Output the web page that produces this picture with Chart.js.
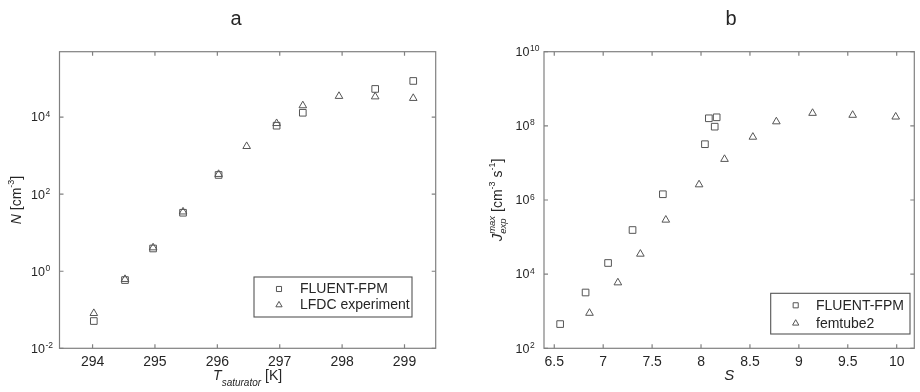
<!DOCTYPE html>
<html>
<head>
<meta charset="utf-8">
<script src="https://cdn.jsdelivr.net/npm/chart.js@4/dist/chart.umd.min.js"></script>
<style>
  html, body { margin: 0; padding: 0; background: #fff; }
  #wrap { position: relative; width: 920px; height: 392px; overflow: hidden; }
  canvas { position: absolute; top: 0; }
  #ca { left: 0; }
  #cb { left: 460px; }
</style>
</head>
<body>
<div id="wrap">
  <canvas id="ca" width="460" height="392"></canvas>
  <canvas id="cb" width="460" height="392"></canvas>
</div>
<script>
// ---------- Panel a data ----------
const aFluentT = [294.02, 294.52, 294.97, 295.45, 296.02, 296.95, 297.37, 298.53, 299.14];
const aFluentN = [0.051, 0.59, 3.9, 33, 316, 6000, 13000, 54000, 87000];
const aLfdcT   = [294.02, 294.52, 294.97, 295.45, 296.02, 296.47, 296.95, 297.37, 297.95, 298.53, 299.14];
const aLfdcN   = [0.081, 0.62, 4.1, 35, 330, 1750, 6900, 20000, 35000, 34000, 31000];
const aXTicks  = [294, 295, 296, 297, 298, 299];
const aYTickExps = [-2, 0, 2, 4];
const aSeriesNames = ['FLUENT-FPM', 'LFDC experiment'];

// ---------- Panel b data ----------
const bFluentS = [6.56, 6.82, 7.05, 7.30, 7.61, 8.04, 8.14, 8.08, 8.16];
const bFluentJ = [450, 3200, 20000, 155000, 1.43e6, 3.2e7, 9.5e7, 1.6e8, 1.7e8];
const bFemS    = [6.86, 7.15, 7.38, 7.64, 7.98, 8.24, 8.53, 8.77, 9.14, 9.55, 9.99];
const bFemJ    = [890, 5900, 35000, 290000, 2.6e6, 1.26e7, 5e7, 1.3e8, 2.2e8, 1.95e8, 1.75e8];
const bXTicks  = [6.5, 7, 7.5, 8, 8.5, 9, 9.5, 10];
const bYTickExps = [2, 4, 6, 8, 10];
const bSeriesNames = ['FLUENT-FPM', 'femtube2'];

const FONT = '"Liberation Sans", Arial, Helvetica, sans-serif';
const TXT = '#262626';
const FRAME = '#808080';
const MARK = '#555555';

function zip(xs, ys) { return xs.map((x, i) => ({ x: x, y: ys[i] })); }

function fontOf(p) { return (p.it ? 'italic ' : '') + p.size + 'px ' + FONT; }

function partWidth(ctx, p) {
  if (p.stack) {
    ctx.font = fontOf({ size: p.size, it: p.it });
    return Math.max(ctx.measureText(p.sup).width, ctx.measureText(p.sub).width);
  }
  ctx.font = fontOf(p);
  return ctx.measureText(p.t).width;
}

function drawRich(ctx, parts, x, y, align) {
  let total = 0;
  parts.forEach(p => total += partWidth(ctx, p));
  let cx = align === 'center' ? x - total / 2 : (align === 'right' ? x - total : x);
  ctx.textAlign = 'left';
  ctx.textBaseline = 'alphabetic';
  ctx.fillStyle = TXT;
  parts.forEach(p => {
    const w = partWidth(ctx, p);
    ctx.font = fontOf(p.stack ? { size: p.size, it: p.it } : p);
    if (p.stack) {
      ctx.fillText(p.sup, cx, y + p.supDy);
      ctx.fillText(p.sub, cx, y + p.subDy);
    } else {
      ctx.fillText(p.t, cx, y + (p.dy || 0));
    }
    cx += w;
  });
}

const decorPlugin = {
  id: 'decor',
  afterDatasetsDraw(chart, args, o) {
    const ctx = chart.ctx;
    const area = chart.chartArea;
    const xs = chart.scales.x, ys = chart.scales.y;
    ctx.save();
    // frame
    ctx.strokeStyle = FRAME;
    ctx.lineWidth = 1.2;
    ctx.strokeRect(area.left, area.top, area.right - area.left, area.bottom - area.top);
    // ticks
    const tl = 4;
    ctx.beginPath();
    o.xTicks.forEach(v => {
      const px = xs.getPixelForValue(v);
      ctx.moveTo(px, area.bottom); ctx.lineTo(px, area.bottom - tl);
      ctx.moveTo(px, area.top); ctx.lineTo(px, area.top + tl);
    });
    o.yExps.forEach(e => {
      const py = ys.getPixelForValue(Math.pow(10, e));
      ctx.moveTo(area.left, py); ctx.lineTo(area.left + tl, py);
      ctx.moveTo(area.right, py); ctx.lineTo(area.right - tl, py);
    });
    ctx.stroke();
    // x tick labels
    ctx.fillStyle = TXT;
    ctx.font = '14px ' + FONT;
    ctx.textAlign = 'center';
    ctx.textBaseline = 'alphabetic';
    o.xTicks.forEach(v => {
      ctx.fillText(String(v), xs.getPixelForValue(v), area.bottom + 17.7);
    });
    // y tick labels (10 with superscript exponent)
    o.yExps.forEach(e => {
      const py = ys.getPixelForValue(Math.pow(10, e));
      ctx.font = '12.5px ' + FONT;
      ctx.textAlign = 'right';
      ctx.fillText('10', area.left - 14.5, py + 4.3);
      ctx.font = '8.5px ' + FONT;
      ctx.textAlign = 'left';
      ctx.fillText(String(e), area.left - 14, py - 0.5);
    });
    // x title
    drawRich(ctx, o.xTitle, (area.left + area.right) / 2 + (o.xTitleShift || 0), 380, 'center');
    // y title (rotated)
    ctx.save();
    ctx.translate(o.yTitleX, (area.top + area.bottom) / 2);
    ctx.rotate(-Math.PI / 2);
    drawRich(ctx, o.yTitle, 0, 0, 'center');
    ctx.restore();
    // panel title
    ctx.fillStyle = TXT;
    ctx.font = '20px ' + FONT;
    ctx.textAlign = 'center';
    ctx.fillText(o.title, o.titleX, 25);
    // legend
    const L = o.legend;
    ctx.fillStyle = '#fff';
    ctx.fillRect(L.x, L.y, L.w, L.h);
    ctx.strokeStyle = '#555';
    ctx.lineWidth = 1.1;
    ctx.strokeRect(L.x, L.y, L.w, L.h);
    chart.data.datasets.forEach((ds, i) => {
      const ry = L.y + L.row0 + i * L.rowH;
      ctx.strokeStyle = MARK;
      ctx.fillStyle = 'rgba(0,0,0,0)';
      ctx.lineWidth = 1;
      Chart.helpers.drawPoint(ctx, { pointStyle: ds.pointStyle, radius: ds.pointStyle === 'rect' ? 3.6 : 3.6, rotation: 0, borderWidth: 1 }, L.x + L.markX, ry);
      ctx.fillStyle = TXT;
      ctx.font = '14px ' + FONT;
      ctx.textAlign = 'left';
      ctx.textBaseline = 'middle';
      ctx.fillText(ds.label, L.x + L.textX, ry + 0.5);
      ctx.textBaseline = 'alphabetic';
    });
    ctx.restore();
  }
};

function makeChart(id, datasets, xr, yr, pad, decor) {
  return new Chart(document.getElementById(id), {
    type: 'scatter',
    data: { datasets: datasets },
    options: {
      responsive: false,
      animation: false,
      events: [],
      layout: { padding: pad },
      plugins: { legend: { display: false }, tooltip: { enabled: false }, decor: decor },
      scales: {
        x: { type: 'linear', display: false, min: xr[0], max: xr[1] },
        y: { type: 'logarithmic', display: false, min: yr[0], max: yr[1] }
      }
    },
    plugins: [decorPlugin]
  });
}

function ds(label, xs, ys, style) {
  return {
    label: label,
    data: zip(xs, ys),
    pointStyle: style,
    pointRadius: style === 'rect' ? 4.7 : 4.4,
    pointBorderColor: MARK,
    pointBackgroundColor: 'rgba(0,0,0,0)',
    pointBorderWidth: 1,
    showLine: false,
    clip: false
  };
}

// Panel a
makeChart('ca',
  [ds(aSeriesNames[0], aFluentT, aFluentN, 'rect'), ds(aSeriesNames[1], aLfdcT, aLfdcN, 'triangle')],
  [293.47, 299.5], [0.01, 5e5],
  { left: 59.5, right: 24.3, top: 51.7, bottom: 43.7 },
  {
    xTicks: aXTicks, yExps: aYTickExps, title: 'a', titleX: 236,
    xTitle: [
      { t: 'T', size: 14, it: true },
      { t: 'saturator', size: 10, it: true, dy: 6 },
      { t: ' [K]', size: 14 }
    ],
    yTitleX: 20.5,
    yTitle: [
      { t: 'N', size: 14, it: true },
      { t: ' [cm', size: 14 },
      { t: '-3', size: 9, dy: -7 },
      { t: ']', size: 14 }
    ],
    legend: { x: 254, y: 277, w: 158, h: 40, row0: 12, rowH: 16, markX: 25, textX: 46 }
  });

// Panel b
makeChart('cb',
  [ds(bSeriesNames[0], bFluentS, bFluentJ, 'rect'), ds(bSeriesNames[1], bFemS, bFemJ, 'triangle')],
  [6.395, 10.18], [1e2, 1e10],
  { left: 84, right: 1, top: 51.7, bottom: 43.7 },
  {
    xTicks: bXTicks, yExps: bYTickExps, title: 'b', titleX: 271,
    xTitle: [{ t: 'S', size: 15, it: true }],
    yTitleX: 41.5,
    yTitle: [
      { t: 'J', size: 15, it: true },
      { stack: true, sup: 'max', sub: 'exp', size: 9.5, it: true, supDy: -7, subDy: 4 },
      { t: ' [cm', size: 14 },
      { t: '-3', size: 9, dy: -7 },
      { t: ' s', size: 14 },
      { t: '-1', size: 9, dy: -7 },
      { t: ']', size: 14 }
    ],
    legend: { x: 310.7, y: 293.3, w: 139.3, h: 40.7, row0: 12, rowH: 18, markX: 25, textX: 45.3 }
  });
</script>
</body>
</html>
